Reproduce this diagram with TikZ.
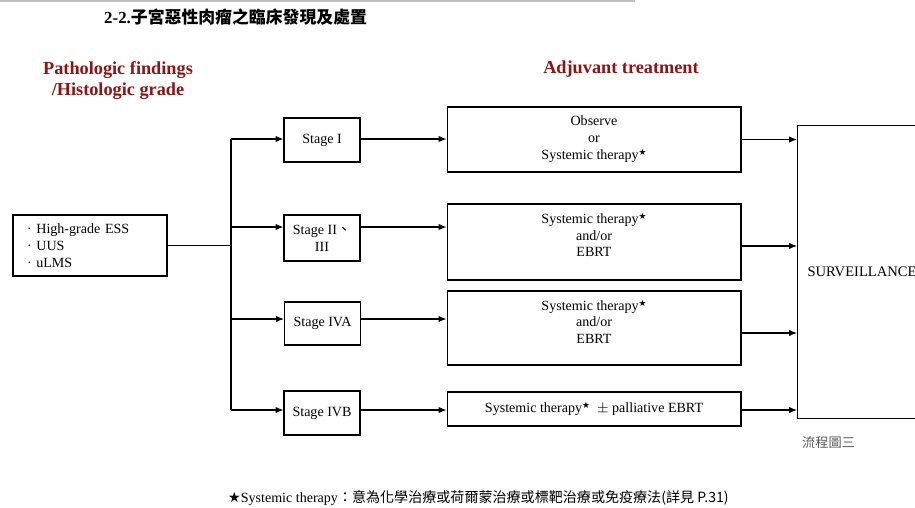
\documentclass[tikz,border=0pt]{standalone}
\usepackage{fontspec}
\setmainfont{Liberation Serif}
\newfontfamily\cjk{Noto Sans CJK TC}
\newfontfamily\symfont{DejaVu Sans}
\usepackage{xcolor}
\usepackage{tikz}
\usetikzlibrary{arrows.meta, positioning, calc}
\definecolor{headred}{RGB}{140,20,20}
\newcommand{\thstar}{\raisebox{0.6ex}{\symfont\fontsize{5}{5}\selectfont ★}}
\tikzset{
    stagebox/.style={rectangle, draw, line width=0.6pt, minimum width=1.52cm, minimum height=0.88cm, align=center, font=\fontsize{8}{9.6}\selectfont},
    treatbox/.style={rectangle, draw, line width=0.6pt, minimum width=5.88cm, align=center, font=\fontsize{8}{9.6}\selectfont},
    heading/.style={font=\fontsize{10.4}{12}\selectfont\bfseries, text=headred, align=center},
    link/.style={line width=0.6pt},
    arrow/.style={line width=0.6pt, -{Latex[length=4.5pt, width=3.6pt]}},
}

\begin{document}
\begin{tikzpicture}[x=0.02cm, y=-0.02cm]
\useasboundingbox (0,0) rectangle (915,507);
\clip (0,0) rectangle (915,507);

% === HEADER ===
\draw[gray!50, line width=0.8pt] (0,1) -- (635,1);
\node[anchor=west, font=\fontsize{9.6}{11}\selectfont\bfseries] (title) at (98,17) {2-2.{\cjk 子宮惡性肉瘤之臨床發現及處置}};
\node[heading] (path) at (118,81) {Pathologic findings\\/Histologic grade};
\node[heading] (adj) at (621,69) {Adjuvant treatment};

% === DIAGNOSIS ===
\node[rectangle, draw, line width=0.6pt, minimum width=3.08cm, minimum height=1.22cm, text width=2.52cm, align=left, font=\fontsize{8}{9.8}\selectfont] (diag) at (90,245.5) {· High-grade ESS\\· UUS\\· uLMS};

% === STAGES ===
\node[stagebox] (s1) at (322,140) {Stage I};
\node[stagebox, minimum height=0.92cm] (s2) at (322,238) {Stage II{\cjk 、}\\III};
\node[stagebox, minimum height=0.86cm] (s3) at (322.5,323.5) {Stage IVA};
\node[stagebox] (s4) at (322,413) {Stage IVB};

% trunk
\coordinate (t1) at (231,139);
\coordinate (t2) at (231,227);
\coordinate (t3) at (231,319);
\coordinate (t4) at (231,410);
\draw[link] (t1) -- (t4);
\draw[link] (diag.east) -- (diag.east -| t1);
\foreach \i in {1,...,4}
    \draw[arrow] (t\i) -- (t\i -| s\i.west);

% === ADJUVANT TREATMENT ===
\node[treatbox, minimum height=1.3cm] (tr1) at (594,139.5) {Observe\\or\\Systemic therapy\thstar};
\node[treatbox, minimum height=1.52cm, text depth=8pt] (tr2) at (594,242) {Systemic therapy\thstar\\and/or\\EBRT};
\node[treatbox, minimum height=1.48cm, text depth=7pt] (tr3) at (594,328) {Systemic therapy\thstar\\and/or\\EBRT};
\node[treatbox, minimum height=0.68cm] (tr4) at (594,409) {Systemic therapy\thstar\ \ $\pm$ palliative EBRT};
\foreach \i in {1,...,4}
    \draw[arrow] (s\i.east |- t\i) -- (tr\i.west |- t\i);

% === SURVEILLANCE ===
\node[rectangle, draw, line width=0.6pt, anchor=north west, minimum width=3.4cm, minimum height=5.86cm, text width=3.0cm, align=left, font=\fontsize{8.3}{10}\selectfont] (surv) at (797,125) {SURVEILLANCE};
\foreach \i/\dy in {1/0, 2/4, 3/5, 4/1}
    \draw[arrow] ($(tr\i.east)+(0,\dy)$) -- ($(tr\i.east -| surv.west)+(0,\dy)$);

% === NOTES ===
\node[anchor=west, font=\fontsize{7.5}{9}\selectfont, text=gray!70!black] (fig) at (796,442) {\cjk 流程圖三};
\node[anchor=west, font=\fontsize{8}{10}\selectfont] (note) at (222,498) {{\symfont ★}Systemic therapy{\cjk ：意為化學治療或荷爾蒙治療或標靶治療或免疫療法(詳見 P.31)}};

\end{tikzpicture}
\end{document}
